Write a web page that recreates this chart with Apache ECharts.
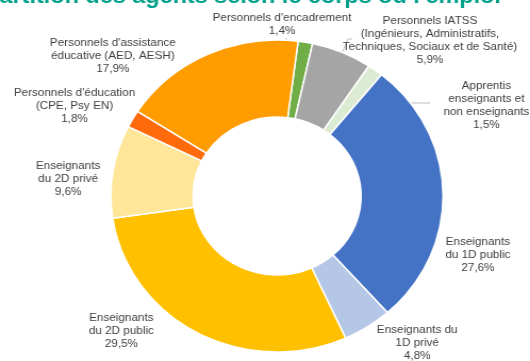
<!DOCTYPE html>
<html>
<head>
<meta charset="utf-8">
<script src="https://cdn.jsdelivr.net/npm/echarts@6/dist/echarts.min.js"></script>
<style>
  html, body { margin: 0; padding: 0; background: #fff; overflow: hidden; }
  #wrap { width: 530px; height: 361px; overflow: hidden; }
  /* chart is drawn slightly narrower and stretched horizontally */
  #chart { width: 498px; height: 361px; transform: scaleX(1.0643); transform-origin: 0 0; }
</style>
</head>
<body>
<div id="wrap"><div id="chart"></div></div>
<script>
// Répartition des agents selon le corps ou l'emploi (%)
const categories = [
  "Personnels d'encadrement",
  "Personnels IATSS\n(Ingénieurs, Administratifs,\nTechniques, Sociaux et de Santé)",
  "Apprentis\nenseignants et\nnon enseignants",
  "Enseignants\ndu 1D public",
  "Enseignants du\n1D privé",
  "Enseignants\ndu 2D public",
  "Enseignants\ndu 2D privé",
  "Personnels d'éducation\n(CPE, Psy EN)",
  "Personnels d'assistance\néducative (AED, AESH)"
];
const values = [1.4, 5.9, 1.5, 27.6, 4.8, 29.5, 9.6, 1.8, 17.9];
const colors = ['#70AD47', '#A5A5A5', '#DCEBD3', '#4472C4', '#B4C7E7',
                '#FFC000', '#FFE699', '#FF6A0A', '#FF9C00'];
const titleText = "Répartition des agents selon le corps ou l'emploi";

// label anchors (chart pixels) and leader lines for the small slices
const labelPos = [
  [265, 24], [404, 40], [457, 105], [449, 255], [392, 343],
  [114, 331], [64, 179], [70, 106], [106, 56]
];
const leaderLines = {
  0: [[269, 38], [275, 60], [281, 80]],
  1: [[331, 39], [327, 39], [307, 88]],
  2: [[404, 103], [368, 103], [332, 103]]
};

const fmt = v => v.toFixed(1).replace('.', ',') + '%';

const chart = echarts.init(document.getElementById('chart'), null, { renderer: 'canvas' });
chart.setOption({
  animation: false,
  graphic: [{
    type: 'text',
    left: -42,
    top: -14,
    style: {
      text: titleText,
      font: 'bold 22px "Liberation Sans", Arial, sans-serif',
      fill: '#00A08B'
    }
  }],
  series: [{
    type: 'pie',
    center: [260.3, 196],
    radius: [79, 156],
    startAngle: 82.7,
    clockwise: true,
    avoidLabelOverlap: false,
    itemStyle: { borderColor: '#fff', borderWidth: 1.5 },
    label: {
      show: true,
      position: 'outside',
      color: '#404040',
      fontFamily: '"Liberation Sans", Arial, sans-serif',
      fontSize: 11,
      lineHeight: 13,
      align: 'center',
      formatter: p => p.name + '\n' + fmt(p.value)
    },
    labelLine: { show: true, lineStyle: { color: '#BFBFBF', width: 1 } },
    labelLayout: p => {
      const i = p.dataIndex;
      const out = { x: labelPos[i][0], y: labelPos[i][1], align: 'center', verticalAlign: 'middle' };
      if (leaderLines[i]) out.labelLinePoints = leaderLines[i];
      return out;
    },
    data: categories.map((name, i) => ({
      name: name,
      value: values[i],
      itemStyle: { color: colors[i] },
      labelLine: { show: !!leaderLines[i] }
    }))
  }]
});
</script>
</body>
</html>
